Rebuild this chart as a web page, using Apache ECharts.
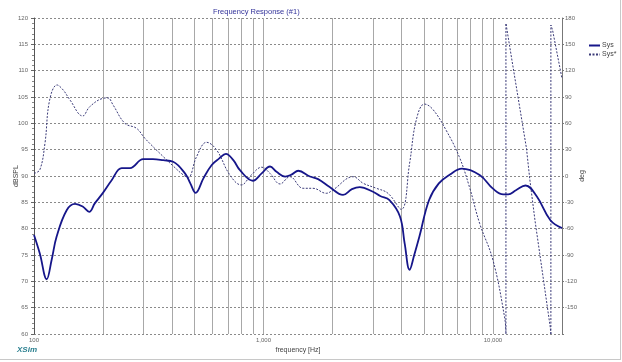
<!DOCTYPE html>
<html><head><meta charset="utf-8">
<script src="https://cdn.jsdelivr.net/npm/echarts@6/dist/echarts.min.js"></script>
<style>html,body{margin:0;padding:0;background:#fff}#c{width:622px;height:362px}</style>
</head><body><div id="c"></div>
<script>
// Magnitude (Sys), dB SPL
const magFreq = [100,106,113.6,119.4,125.5,138.8,151,163,174,184,199,218,241,262,299,330,366,404,455,480,506,548,595,640,686,739,790,899,982,1068,1140,1243,1330,1417,1594,1730,1943,2222,2430,2627,3003,3226,3541,3934,4124,4334,4540,4782,5265,5810,6500,7326,8752,10000,11093,11660,12600,13870,15540,17800,20000];
const magDb   = [78.8,75.3,70.4,74.1,78.5,83.5,84.7,84.2,83.2,84.8,86.7,89.2,91.5,91.5,93.2,93.2,93.0,92.7,90.5,88.6,86.8,89.6,92.1,93.3,94.2,93.0,91.1,89.1,90.5,91.8,90.8,89.9,90.3,91.0,89.9,89.4,87.9,86.4,87.5,87.9,87.0,86.2,85.4,82.3,77.2,72.2,75.0,78.5,85.4,88.6,90.3,91.4,90.2,87.6,86.5,86.5,87.3,88.2,86.1,81.6,80.1];

// Phase (Sys*), degrees, split at the +/-180 wraps
const ph1Freq = [100,106,111.6,117,126,134,143.5,163,175,200,210,221,249,280,304,366,404,448,470,511,565,625,714,800,885,982,1068,1181,1303,1488,1644,1878,2005,2463,2720,3106,3488,3985,4334,4634,5034,5468,6245,7130,7890,8752,10000,11260,11394];
const ph1Deg  = [3,7,37,86.6,103.7,98,86.6,68.4,79,88.5,89,81,60,54.3,43,22,11.4,1.1,-1.5,22,38.4,29.6,1.1,-10.2,1.1,10,3,-9.1,-0.8,-14,-14,-19.7,-16,-0.8,-8.3,-14,-19.7,-38,14.5,63.8,82,76,52.4,22,-12,-54,-95.7,-162,-180];
const ph2Freq = [11394,11394,12100,14000,14490,15240,17770,17890];
const ph2Deg  = [-180,174,132,31.6,-4.6,-50,-172,-180];
const ph3Freq = [17890,17890,18200,20000];
const ph3Deg  = [-180,172,166,111];

// vertical (minor) grid frequencies
const gridFreqs = [200,300,400,500,600,700,800,900,2000,3000,4000,5000,6000,7000,8000,9000];
const xTickLabels = {100:'100',1000:'1,000',10000:'10,000'};

const zip = (a,b) => a.map((v,i)=>[v,b[i]]);
const FONT = 'Liberation Sans, Arial, sans-serif';
const chart = echarts.init(document.getElementById('c'), null, {renderer:'canvas'});
const phaseStyle = {color:'#3a3a78', width:1, type:[2,1.5]};

chart.setOption({
  animation:false,
  backgroundColor:'#ffffff',
  title:{text:'Frequency Response (#1)', left:208, top:3, textStyle:{fontSize:7.5, fontWeight:'normal', color:'#33339a', fontFamily:FONT}},
  legend:{data:['Sys','Sys*'], orient:'vertical', left:583, top:37, itemWidth:11, itemHeight:6, itemGap:2,
    itemStyle:{opacity:0},
    textStyle:{fontSize:7, color:'#444', fontFamily:FONT, padding:[0,0,0,-3]}},
  grid:{left:34, right:60, top:18, bottom:28, containLabel:false, outerBoundsMode:'none'},
  xAxis:{type:'log', logBase:10, min:100, max:20000,
    name:'frequency [Hz]', nameLocation:'middle', nameGap:13, nameMoveOverlap:false,
    nameTextStyle:{fontSize:7, color:'#444', fontFamily:FONT},
    axisLine:{show:false}, axisTick:{show:false},
    axisLabel:{fontSize:6, color:'#666', fontFamily:FONT, margin:3, formatter:v=>xTickLabels[Math.round(v)]||''},
    splitLine:{show:true, lineStyle:{color:'#a8a8a8', width:1, type:'solid'}}},
  yAxis:[
    {type:'value', min:60, max:120, interval:5, position:'left',
      name:'dBSPL', nameLocation:'middle', nameGap:14, nameRotate:90, nameMoveOverlap:false,
      nameTextStyle:{fontSize:7, color:'#444', fontFamily:FONT},
      axisLine:{show:true, lineStyle:{color:'#555', width:1}},
      axisTick:{show:true, length:3, lineStyle:{color:'#666'}},
      minorTick:{show:true, splitNumber:5, length:2, lineStyle:{color:'#888'}},
      axisLabel:{fontSize:6, color:'#666', fontFamily:FONT, margin:6},
      splitLine:{show:true, lineStyle:{color:'#8a8a8a', width:1, type:[2,2]}}},
    {type:'value', min:-180, max:180, interval:30, position:'right',
      name:'deg', nameLocation:'middle', nameGap:17, nameRotate:90, nameMoveOverlap:false,
      nameTextStyle:{fontSize:7, color:'#444', fontFamily:FONT},
      axisLine:{show:true, lineStyle:{color:'#777', width:1}},
      axisTick:{show:true, length:2, lineStyle:{color:'#777'}},
      axisLabel:{fontSize:6, color:'#666', fontFamily:FONT, margin:3, formatter:v=>v===-180?'':String(v)},
      splitLine:{show:false}}
  ],
  graphic:[
    {type:'text', left:17, top:346, style:{text:'XSim', font:'italic bold 8px '+FONT, fill:'#2a7f8f'}},
    {type:'line', shape:{x1:0,y1:359.5,x2:621,y2:359.5}, style:{stroke:'#c8c8c8', lineWidth:1}},
    {type:'line', shape:{x1:620.5,y1:0,x2:620.5,y2:360}, style:{stroke:'#c8c8c8', lineWidth:1}}
  ],
  series:[
    {type:'line', name:'grid', data:[], silent:true, yAxisIndex:0,
      markLine:{silent:true, z:1, symbol:['none','none'], label:{show:false}, animation:false,
        emphasis:{disabled:true},
        lineStyle:{color:'#a8a8a8', width:1, type:'solid'},
        data:gridFreqs.map(f=>({xAxis:f}))}},
    {type:'line', name:'Sys*', yAxisIndex:1, data:zip(ph1Freq,ph1Deg), showSymbol:false, symbol:'none', smooth:0.4, lineStyle:phaseStyle, itemStyle:{color:'#3a3a78'}, z:3},
    {type:'line', name:'Sys*', yAxisIndex:1, data:zip(ph2Freq,ph2Deg), showSymbol:false, symbol:'none', smooth:false, lineStyle:phaseStyle, itemStyle:{color:'#3a3a78'}, z:3},
    {type:'line', name:'Sys*', yAxisIndex:1, data:zip(ph3Freq,ph3Deg), showSymbol:false, symbol:'none', smooth:false, lineStyle:phaseStyle, itemStyle:{color:'#3a3a78'}, z:3},
    {type:'line', name:'Sys', yAxisIndex:0, data:zip(magFreq,magDb), showSymbol:false, symbol:'none', smooth:0.4, lineStyle:{color:'#16168a', width:1.8}, itemStyle:{color:'#16168a'}, z:4}
  ]
});
</script></body></html>
